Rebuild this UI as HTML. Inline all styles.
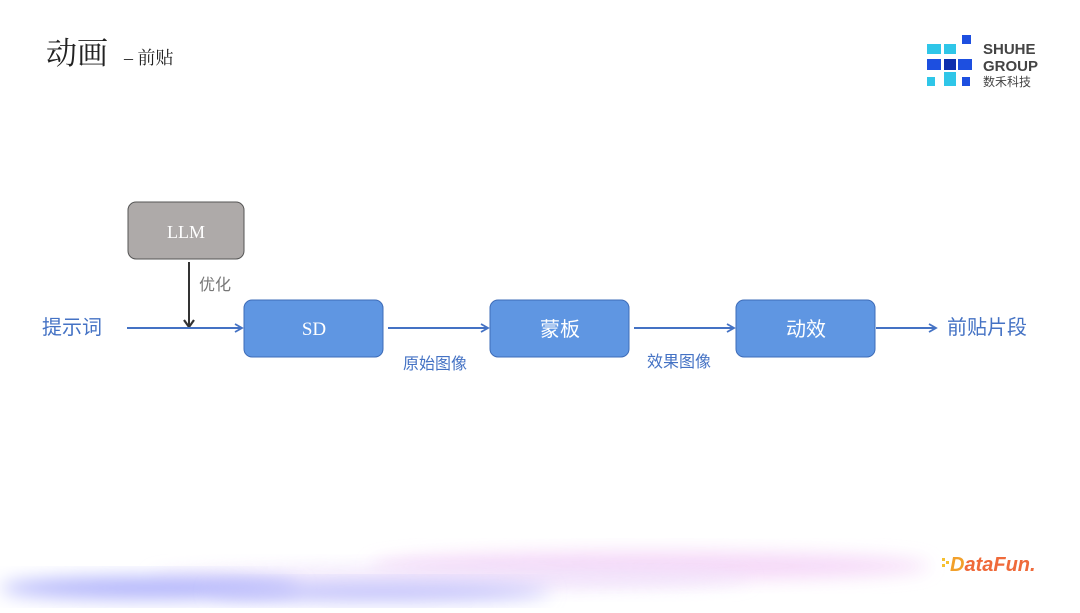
<!DOCTYPE html>
<html><head><meta charset="utf-8"><style>
body{margin:0;width:1080px;height:608px;overflow:hidden;background:#fff;font-family:"Liberation Sans","Noto Sans CJK SC",sans-serif;}
</style></head><body>
<svg width="1080" height="608" viewBox="0 0 1080 608" xmlns="http://www.w3.org/2000/svg">
<defs>
<filter id="b" x="-50%" y="-50%" width="200%" height="200%"><feGaussianBlur stdDeviation="9"/></filter>
<marker id="a" markerWidth="10" markerHeight="10" refX="8" refY="5" orient="auto" markerUnits="userSpaceOnUse"><path d="M1,1 L8,5 L1,9" fill="none" stroke="#4472c4" stroke-width="1.8"/></marker>
<marker id="k" markerWidth="14" markerHeight="14" refX="7" refY="12" orient="0" markerUnits="userSpaceOnUse"><path d="M2,5 L7,12 L12,5" fill="none" stroke="#333" stroke-width="2.2"/></marker>
</defs>
<ellipse cx="650" cy="566" rx="280" ry="14" fill="#f4d3f7" filter="url(#b)" opacity="0.9"/>
<ellipse cx="450" cy="578" rx="300" ry="12" fill="#efe3fb" filter="url(#b)" opacity="0.8"/>
<ellipse cx="150" cy="588" rx="150" ry="11" fill="#b0b3fb" filter="url(#b)"/>
<ellipse cx="380" cy="592" rx="170" ry="9" fill="#c0c0fb" filter="url(#b)"/>
<text x="46" y="64" font-size="31" fill="#222" font-family="Liberation Serif,Noto Serif CJK SC,serif">动画</text>
<text x="124" y="64" font-size="18" fill="#222" font-family="Liberation Serif,Noto Serif CJK SC,serif">–  前贴</text>
<rect x="927" y="44" width="14" height="10" fill="#2fc6e8"/>
<rect x="944" y="44" width="12" height="10" fill="#2fc6e8"/>
<rect x="962" y="35" width="9" height="9" fill="#1d4fe0"/>
<rect x="927" y="59" width="14" height="11" fill="#1d4fe0"/>
<rect x="944" y="59" width="12" height="11" fill="#0d2fae"/>
<rect x="958" y="59" width="14" height="11" fill="#1d4fe0"/>
<rect x="927" y="77" width="8" height="9" fill="#2fc6e8"/>
<rect x="944" y="72" width="12" height="14" fill="#2fc6e8"/>
<rect x="962" y="77" width="8" height="9" fill="#1d4fe0"/>
<text x="983" y="54" font-size="15" fill="#444" font-weight="bold">SHUHE</text>
<text x="983" y="71" font-size="15" fill="#444" font-weight="bold">GROUP</text>
<text x="983" y="86" font-size="12" fill="#444">数禾科技</text>
<rect x="128" y="202" width="116" height="57" rx="8" fill="#aeaaa9" stroke="#555" stroke-width="1"/>
<text x="186" y="238" font-size="18" fill="#fff" text-anchor="middle" font-family="Liberation Serif,serif">LLM</text>
<line x1="189" y1="262" x2="189" y2="327" stroke="#333" stroke-width="2" marker-end="url(#k)"/>
<text x="199" y="290" font-size="16" fill="#777">优化</text>
<text x="42" y="334" font-size="20" fill="#4472c4">提示词</text>
<line x1="127" y1="328" x2="242" y2="328" stroke="#4472c4" stroke-width="2" marker-end="url(#a)"/>
<rect x="244" y="300" width="139" height="57" rx="8" fill="#5f96e2" stroke="#3e6cb8"/>
<text x="314" y="335" font-size="19" fill="#fff" text-anchor="middle" font-family="Liberation Serif,serif">SD</text>
<line x1="388" y1="328" x2="488" y2="328" stroke="#4472c4" stroke-width="2" marker-end="url(#a)"/>
<text x="403" y="369" font-size="16" fill="#4472c4">原始图像</text>
<rect x="490" y="300" width="139" height="57" rx="8" fill="#5f96e2" stroke="#3e6cb8"/>
<text x="560" y="336" font-size="20" fill="#fff" text-anchor="middle">蒙板</text>
<line x1="634" y1="328" x2="734" y2="328" stroke="#4472c4" stroke-width="2" marker-end="url(#a)"/>
<text x="647" y="367" font-size="16" fill="#4472c4">效果图像</text>
<rect x="736" y="300" width="139" height="57" rx="8" fill="#5f96e2" stroke="#3e6cb8"/>
<text x="806" y="336" font-size="20" fill="#fff" text-anchor="middle">动效</text>
<line x1="876" y1="328" x2="936" y2="328" stroke="#4472c4" stroke-width="2" marker-end="url(#a)"/>
<text x="947" y="334" font-size="20" fill="#4472c4">前贴片段</text>
<text x="950" y="571" font-size="20" font-weight="bold" font-style="italic" fill="#f2a02a">D<tspan fill="#ef6a3a">ataFun.</tspan></text>
<rect x="942" y="558" width="3" height="3" fill="#f5c030"/><rect x="942" y="564" width="3" height="3" fill="#f5c030"/><rect x="946" y="561" width="3" height="3" fill="#f5c030"/>
</svg>
</body></html>
